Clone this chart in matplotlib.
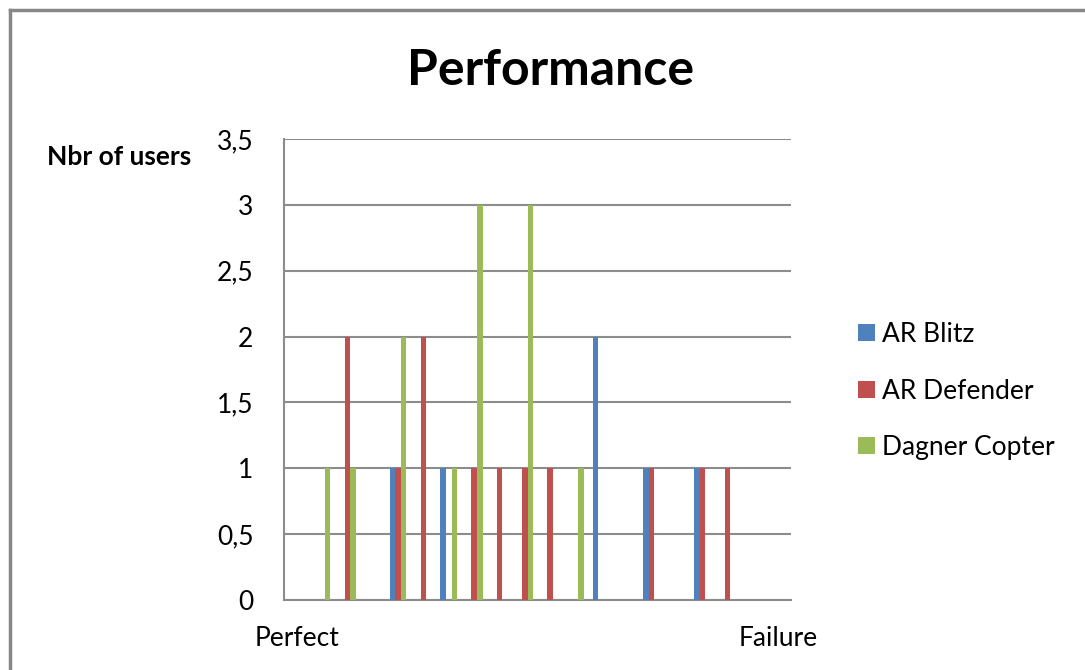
import matplotlib
matplotlib.use("Agg")
import matplotlib.pyplot as plt
from matplotlib.lines import Line2D
from matplotlib.patches import Patch
from matplotlib.ticker import FuncFormatter

# ---- data ----
n_categories = 20
category_labels = ["Perfect"] + [""] * 18 + ["Failure"]
series_names = ["AR Blitz", "AR Defender", "Dagner Copter"]
ar_blitz =      [0, 0, 0, 0, 1, 0, 1, 0, 0, 0, 0, 0, 2, 0, 1, 0, 1, 0, 0, 0]
ar_defender =   [0, 0, 2, 0, 1, 2, 0, 1, 1, 1, 1, 0, 0, 0, 1, 0, 1, 1, 0, 0]
dagner_copter = [0, 1, 1, 0, 2, 0, 1, 3, 0, 3, 0, 1, 0, 0, 0, 0, 0, 0, 0, 0]
colors = ["#4F81BD", "#C0504D", "#9BBB59"]
y_ticks = [0, 0.5, 1, 1.5, 2, 2.5, 3, 3.5]

FONT = ["Lato", "DejaVu Sans"]
plt.rcParams["font.family"] = FONT

fig = plt.figure(figsize=(10.85, 6.7), dpi=100)
ax = fig.add_axes([0.2618, 0.1045, 0.4673, 0.688])

w = 0.22
x = list(range(n_categories))
for k, (vals, name, col) in enumerate(zip([ar_blitz, ar_defender, dagner_copter], series_names, colors)):
    ax.bar([xi + (k - 1) * w for xi in x], vals, width=w, color=col, linewidth=0, label=name, zorder=3)

ax.set_xlim(-0.5, n_categories - 0.5)
ax.set_ylim(0, 3.5)
ax.set_yticks(y_ticks)
ax.yaxis.set_major_formatter(FuncFormatter(lambda v, p: (f"{v:g}").replace(".", ",")))
ax.set_xticks(x)
ax.set_xticklabels(category_labels)
ax.tick_params(axis="both", length=0, labelsize=19, colors="black")
ax.tick_params(axis="y", pad=22)
ax.tick_params(axis="x", pad=19)

ax.grid(axis="y", color="#8c8c8c", linewidth=1.5, zorder=0)
for s in ["top", "right"]:
    ax.spines[s].set_visible(False)
for s in ["left", "bottom"]:
    ax.spines[s].set_color("#8c8c8c")
    ax.spines[s].set_linewidth(1.5)

fig.text(0.507, 0.8955, "Performance", ha="center", va="center", fontsize=36, fontweight="bold")
fig.text(0.0433, 0.7657, "Nbr of users", ha="left", va="center", fontsize=19, fontweight="bold")

handles = [Patch(facecolor=c, edgecolor="none") for c in colors]
fig.legend(handles, series_names, loc="center left", bbox_to_anchor=(0.791, 0.4164),
           frameon=False, fontsize=19, handlelength=0.62, handleheight=0.62,
           handletextpad=0.28, labelspacing=1.2, borderaxespad=0, borderpad=0)

# chart area border (left and top visible)
fig.add_artist(Line2D([9.5 / 1085, 9.5 / 1085], [0, 1 - 9.5 / 670], transform=fig.transFigure,
                      color="#888888", linewidth=2.5))
fig.add_artist(Line2D([9.5 / 1085, 1], [1 - 9.5 / 670, 1 - 9.5 / 670], transform=fig.transFigure,
                      color="#888888", linewidth=2.5))

fig.savefig("out.png", dpi=100, facecolor="white")
